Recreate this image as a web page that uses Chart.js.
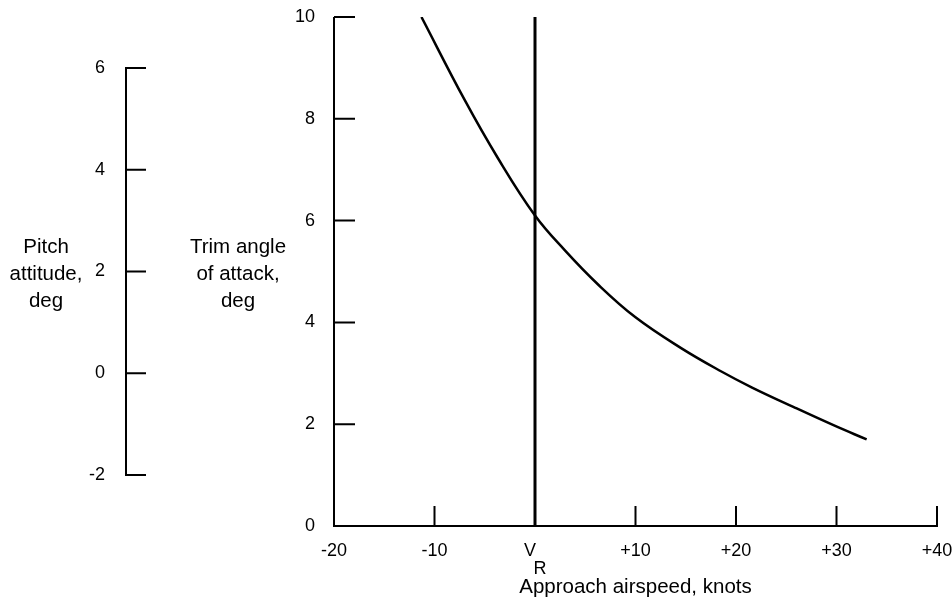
<!DOCTYPE html>
<html>
<head>
<meta charset="utf-8">
<title>Trim angle of attack vs approach airspeed</title>
<script src="https://cdn.jsdelivr.net/npm/chart.js@4.4.0/dist/chart.umd.min.js"></script>
<style>
  html, body { margin: 0; padding: 0; background: #fff; }
  #wrap { width: 952px; height: 603px; }
</style>
</head>
<body>
<div id="wrap"><canvas id="trimChart" width="952" height="603"></canvas></div>
<script>
// approach airspeed relative to V_R (knots) and trim angle of attack (deg)
const airspeed = [-11.3, -7, -3.7, 0, 3, 6.3, 10, 14.5, 18.5, 21.6, 25.7, 29.7, 33];
const trimAlpha = [10, 8.37, 7.23, 6.1, 5.41, 4.74, 4.1, 3.5, 3.04, 2.72, 2.34, 1.98, 1.7];

// V_R reference line
const refSpeed = [0, 0];
const refAlpha = [0, 10];

const speedTicks = [-20, -10, 0, 10, 20, 30, 40];
const alphaTicks = [0, 2, 4, 6, 8, 10];
const pitchTicks = [-2, 0, 2, 4, 6];

const pitchTitle = ["Pitch", "attitude,", "deg"];
const alphaTitle = ["Trim angle", "of attack,", "deg"];
const speedTitle = "Approach airspeed, knots";

const FONT = "'Liberation Sans', Arial, sans-serif";
const INK = "#000";

const asTicks = list => scale => { scale.ticks = list.map(v => ({ value: v })); };

// fixed box size, no extra room for overhanging labels
const fixBox = (w, h) => s => {
  if (w != null) s.width = w;
  if (h != null) s.height = h;
  s.paddingTop = s.paddingBottom = s.paddingLeft = s.paddingRight = 0;
};

// axis lines with inward ticks, plus the two left-hand titles
const paperAxes = {
  id: "paperAxes",
  afterDatasetsDraw(chart) {
    const { ctx, chartArea, scales } = chart;
    const x = scales.x, y = scales.y, p = scales.pitch;
    ctx.save();
    ctx.strokeStyle = INK;
    ctx.lineWidth = 2;
    ctx.beginPath();

    // trim angle axis
    const left = chartArea.left;
    const bottom = y.getPixelForValue(0);
    ctx.moveTo(left, bottom + 1);
    ctx.lineTo(left, y.getPixelForValue(10));
    alphaTicks.forEach(v => {
      if (v === 0) return;
      const py = y.getPixelForValue(v);
      ctx.moveTo(left, py);
      ctx.lineTo(left + 21, py);
    });

    // airspeed axis
    ctx.moveTo(left, bottom);
    ctx.lineTo(x.getPixelForValue(40) + 1, bottom);
    speedTicks.forEach(v => {
      if (v === -20 || v === 0) return;
      const px = x.getPixelForValue(v);
      ctx.moveTo(px, bottom);
      ctx.lineTo(px, bottom - 20);
    });

    // pitch attitude axis
    const pa = p.right;
    ctx.moveTo(pa, p.getPixelForValue(-2) + 1);
    ctx.lineTo(pa, p.getPixelForValue(6) - 1);
    pitchTicks.forEach(v => {
      const py = p.getPixelForValue(v);
      ctx.moveTo(pa, py);
      ctx.lineTo(pa + 20, py);
    });
    ctx.stroke();

    ctx.fillStyle = INK;
    ctx.font = "20.5px " + FONT;
    ctx.textAlign = "center";
    ctx.textBaseline = "middle";
    const mid = p.getPixelForValue(2) + 3;
    pitchTitle.forEach((t, i) => ctx.fillText(t, pa - 80, mid + (i - 1) * 27));
    alphaTitle.forEach((t, i) => ctx.fillText(t, pa + 112, mid + (i - 1) * 27));
    ctx.restore();
  }
};

const tickFont = { family: FONT, size: 18 };

new Chart(document.getElementById("trimChart"), {
  type: "line",
  data: {
    datasets: [
      {
        data: airspeed.map((v, i) => ({ x: v, y: trimAlpha[i] })),
        borderColor: INK,
        borderWidth: 2.5,
        pointRadius: 0,
        tension: 0.4,
      },
      {
        data: refSpeed.map((v, i) => ({ x: v, y: refAlpha[i] })),
        borderColor: INK,
        borderWidth: 3,
        pointRadius: 0,
      },
    ],
  },
  options: {
    responsive: false,
    animation: false,
    devicePixelRatio: 1,
    layout: { padding: { top: 17, right: 15, left: 0, bottom: 0 } },
    plugins: { legend: { display: false }, tooltip: { enabled: false } },
    scales: {
      x: {
        type: "linear",
        min: -20,
        max: 40,
        afterBuildTicks: asTicks(speedTicks),
        afterFit: fixBox(null, 77),
        grid: { display: false },
        border: { display: false },
        ticks: {
          font: { ...tickFont, lineHeight: 1.0 },
          color: INK,
          padding: 8,
          maxRotation: 0,
          autoSkip: false,
          callback: v => (v === 0 ? ["V  ", "  R"] : v > 0 ? "+" + v : String(v)),
        },
        title: {
          display: true,
          text: speedTitle,
          color: INK,
          font: { family: FONT, size: 20.5 },
          padding: { top: 3, bottom: 3 },
        },
      },
      y: {
        position: "left",
        weight: 0,
        min: 0,
        max: 10,
        afterBuildTicks: asTicks(alphaTicks),
        afterFit: fixBox(208, null),
        grid: { display: false },
        border: { display: false },
        ticks: { font: tickFont, color: INK, padding: 11 },
      },
      pitch: {
        position: "left",
        weight: 1,
        min: -3,
        max: 7,
        afterBuildTicks: asTicks(pitchTicks),
        afterFit: fixBox(126, null),
        grid: { display: false },
        border: { display: false },
        ticks: { font: tickFont, color: INK, padding: 13 },
      },
    },
  },
  plugins: [paperAxes],
});
</script>
</body>
</html>
